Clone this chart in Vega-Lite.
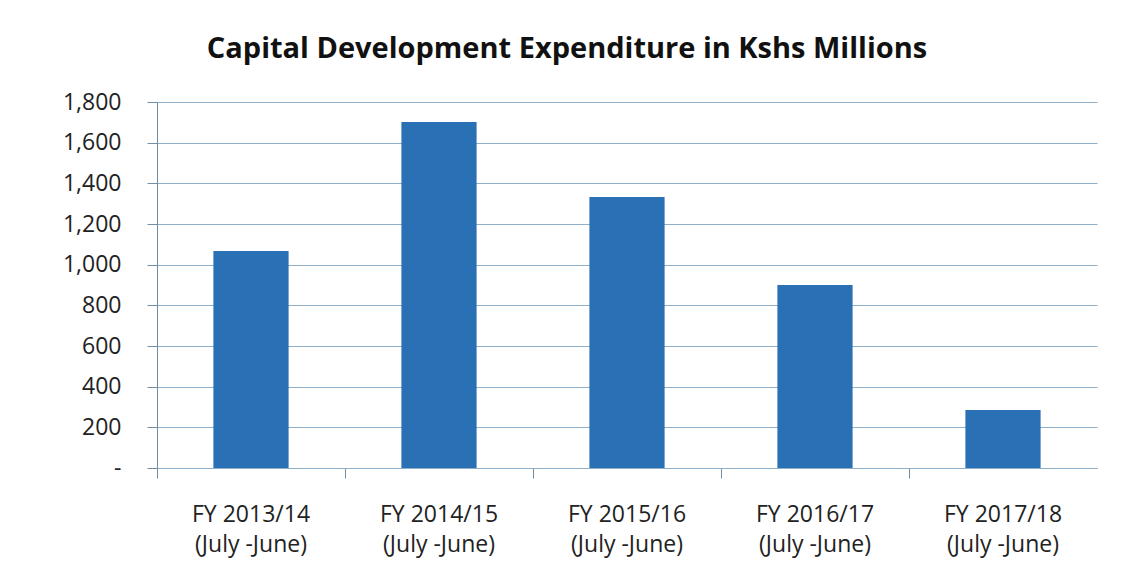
{
  "$schema": "https://vega.github.io/schema/vega-lite/v6.json",
  "autosize": {"type": "none"},
  "width": 940,
  "height": 366,
  "padding": {"left": 157, "top": 102, "right": 31, "bottom": 115},
  "background": "white",
  "title": {
    "text": "Capital Development Expenditure in Kshs Millions",
    "font": "Open Sans",
    "fontSize": 29,
    "fontWeight": "bold",
    "color": "#111111",
    "anchor": "middle",
    "dx": -60,
    "offset": 27
  },
  "data": {
    "values": [
      {"fy": "FY 2013/14", "value": 1067},
      {"fy": "FY 2014/15", "value": 1702},
      {"fy": "FY 2015/16", "value": 1333},
      {"fy": "FY 2016/17", "value": 900},
      {"fy": "FY 2017/18", "value": 285}
    ]
  },
  "mark": {"type": "bar", "color": "#2a70b5", "width": {"band": 0.4}},
  "encoding": {
    "x": {
      "field": "fy",
      "type": "nominal",
      "sort": null,
      "scale": {"paddingInner": 0, "paddingOuter": 0},
      "axis": {
        "title": null,
        "labelAngle": 0,
        "bandPosition": 0,
        "labelExpr": "[datum.label, '(July -June)']",
        "labelFont": "Open Sans",
        "labelFontSize": 23,
        "labelColor": "#222222",
        "labelLineHeight": 30,
        "labelPadding": 25,
        "tickSize": 10,
        "tickColor": "#6f8fa8",
        "domainColor": "#8fb0c8",
        "grid": false
      }
    },
    "y": {
      "field": "value",
      "type": "quantitative",
      "scale": {"domain": [0, 1800]},
      "axis": {
        "title": null,
        "values": [0, 200, 400, 600, 800, 1000, 1200, 1400, 1600, 1800],
        "labelExpr": "datum.value == 0 ? '-' : format(datum.value, ',')",
        "labelFont": "Open Sans",
        "labelFontSize": 23,
        "labelColor": "#222222",
        "labelPadding": 26,
        "tickSize": 10,
        "tickColor": "#6f8fa8",
        "domainColor": "#6f8fa8",
        "grid": true,
        "gridColor": "#8fb0c8",
        "gridOpacity": 1
      }
    }
  },
  "config": {"view": {"stroke": null}}
}
